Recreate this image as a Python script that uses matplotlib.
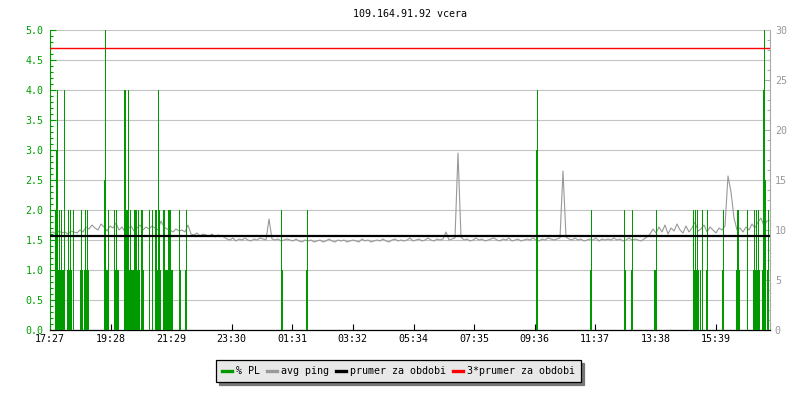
import matplotlib
matplotlib.use("Agg")
import matplotlib.pyplot as plt
from matplotlib.lines import Line2D
from matplotlib.ticker import MultipleLocator, FormatStrFormatter
from matplotlib.transforms import blended_transform_factory
import numpy as np

plt.rcParams['font.family'] = ['DejaVu Sans Mono']
plt.rcParams['font.size'] = 7.2

title = '109.164.91.92 vcera'
start_time = '17:27'
span_minutes = 1440
tick_labels = ['17:27', '19:28', '21:29', '23:30', '01:31', '03:32',
               '05:34', '07:35', '09:36', '11:37', '13:38', '15:39']

# avg ping [ms], one sample every 6 minutes from 17:27
ping_step = 6
ping_ms = [
    # 17:27 - 22:09
    9.7, 9.8, 9.6, 9.9, 9.7, 9.8, 9.6, 9.9, 9.8, 9.7,
    10.0, 9.8, 10.3, 10.1, 10.5, 10.2, 10.0, 10.6, 10.3, 9.9,
    10.4, 10.2, 10.7, 10.0, 10.3, 9.8, 10.1, 10.4, 9.9, 10.2,
    10.5, 10.0, 10.3, 10.1, 10.4, 10.2, 10.0, 10.9, 10.3, 10.1,
    10.0, 9.8, 10.1, 9.9, 10.0, 9.8, 10.5,
    # 22:09 - 23:21
    9.6, 9.5, 9.7, 9.4, 9.6, 9.5, 9.4, 9.6, 9.3, 9.5, 9.4, 9.3,
    # 23:21 - 13:27
    9.1, 9.0, 9.2, 8.9, 9.1, 9.0, 9.2, 9.0, 8.9, 9.1,
    9.0, 9.2, 9.1, 9.0, 11.1, 9.1, 9.0, 9.1, 8.9, 9.0,
    9.1, 9.0, 8.9, 9.1, 8.9, 8.8, 9.0, 8.9, 9.0, 8.8,
    8.9, 9.0, 8.8, 8.9, 9.1, 8.9, 8.8, 9.0, 8.9, 9.0,
    8.8, 8.9, 9.0, 8.9, 8.8, 9.1, 8.9, 9.0, 8.8, 8.9,
    9.0, 8.9, 9.1, 8.9, 8.8, 9.0, 9.1, 8.9, 9.0, 8.9,
    9.0, 9.2, 8.9, 9.0, 9.1, 8.9, 9.0, 9.2, 9.0, 8.9,
    9.1, 9.0, 9.1, 9.8, 9.0, 9.1, 9.2, 17.7, 9.3, 9.0,
    9.1, 8.9, 9.0, 9.2, 9.0, 9.1, 8.9, 9.0, 9.1, 9.2,
    9.0, 8.9, 9.1, 9.0, 9.2, 8.9, 9.0, 9.1, 8.9, 9.0,
    9.1, 9.0, 9.2, 9.0, 8.9, 9.1, 9.0, 9.2, 9.1, 9.0,
    9.1, 9.2, 15.9, 9.3, 9.1, 9.0, 9.2, 9.0, 9.1, 8.9,
    9.0, 9.1, 9.0, 9.2, 8.9, 9.1, 9.0, 9.1, 9.0, 9.2,
    9.0, 9.1, 8.9, 9.0, 9.2, 9.0, 9.1, 9.0, 8.9, 9.1, 9.3,
    # 13:27 - 17:21
    9.6, 10.1, 9.7, 10.3, 9.8, 10.5, 9.6, 10.2, 9.9, 10.6,
    10.0, 9.7, 10.4, 9.8, 10.2, 10.8, 9.9, 10.1, 10.5, 9.8,
    10.3, 10.0, 9.7, 10.2, 10.0, 10.4, 15.4, 13.8, 11.2, 10.0,
    10.2, 9.8, 10.3, 10.0, 10.6, 10.2, 10.8, 11.2, 10.4, 10.9,
]
ping_mean = 9.4

# packet loss [%], minutes after 17:27
pl_minutes = [
    8, 10, 12, 14, 16, 18, 20, 22, 24, 26, 32, 34, 36, 38, 40, 44, 58, 60, 62, 66, 68, 70, 72, 74,
    106, 108, 110, 112, 114, 126, 128, 130, 132, 134,
    146, 148, 150, 152, 154, 156, 158, 160, 162, 164, 166, 168, 170, 172, 174, 176, 180, 182, 184,
    196, 202, 208, 210, 212, 214, 216, 218, 224, 226, 228, 230, 232, 234, 236, 238, 240, 242, 256, 258, 268, 270,
    460, 462, 510, 512, 970, 972, 1078, 1080, 1146, 1148, 1160, 1162, 1206, 1208, 1210,
    1284, 1286, 1288, 1290, 1292, 1294, 1298, 1302, 1310, 1312, 1342, 1344, 1370, 1372, 1374, 1376, 1392,
    1404, 1406, 1408, 1410, 1412, 1414, 1416, 1422, 1424, 1426, 1428, 1432, 1434,
]
pl_values = [
    2, 3, 4, 1, 2, 1, 2, 1, 1, 4, 1, 2, 1, 2, 1, 2, 1, 2, 1, 1, 2, 1, 2, 1,
    2.5, 5, 1, 1, 2, 2, 1, 2, 1, 1,
    4, 4, 2, 2, 4, 1, 2, 1, 1, 1, 2, 2, 2, 1, 2, 1, 2, 2, 1,
    2, 2, 2, 2, 1, 4, 2, 1, 2, 2, 1, 1, 1, 2, 2, 2, 1, 1, 2, 1, 1, 2,
    2, 1, 1, 2, 3, 4, 1, 2, 2, 1, 1, 2, 1, 1, 2,
    2, 1, 2, 1, 2, 1, 1, 2, 1, 2, 1, 2, 1, 2, 2, 1, 2,
    1, 2, 1, 2, 1, 2, 1, 1, 4, 5, 2.5, 1, 2,
]

legend_labels = ['% PL', 'avg ping', 'prumer za obdobi', '3*prumer za obdobi']

green = '#009900'
green_txt = '#00a000'
gray = '#999999'
grid_c = '#c4c4c4'


def minutes_after_start(hhmm):
    h, m = map(int, hhmm.split(':'))
    sh, sm = map(int, start_time.split(':'))
    return (h * 60 + m - sh * 60 - sm) % 1440


tick_pos = [minutes_after_start(t) for t in tick_labels]
ping_minutes = np.arange(len(ping_ms)) * ping_step
# each PL sample covers one 2-minute column; draw it at the column centre
pl_centres = np.array(pl_minutes) + 1

fig = plt.figure(figsize=(8, 4), dpi=100)
ax = fig.add_axes([50 / 800, 70 / 400, 720 / 800, 300 / 400])
ax2 = ax.twinx()
ax.set_zorder(2)
ax2.set_zorder(1)
ax.patch.set_visible(False)

ax.set_xlim(0, span_minutes)
ax.set_ylim(0, 5)
ax2.set_ylim(0, 30)

ax.set_axisbelow(True)
ax.yaxis.grid(True, color=grid_c, linewidth=0.8, zorder=0)

# avg ping lives on the right scale
ax.plot(ping_minutes, ping_ms, color=gray, linewidth=0.8, zorder=2,
        transform=ax2.transData)
ax.vlines(pl_centres, 0, pl_values, color=green, linewidth=0.72,
          antialiased=False, snap=True, zorder=3)
hline_tr = blended_transform_factory(ax.transAxes, ax2.transData)
ax.plot([0, 1], [ping_mean, ping_mean], color='black', linewidth=1.6,
        zorder=4, transform=hline_tr)
ax.plot([0, 1], [3 * ping_mean, 3 * ping_mean], color='#ff0000',
        linewidth=1.0, zorder=4, transform=hline_tr)

# axes styling
for side in ['top', 'right']:
    ax.spines[side].set_visible(False)
for side in ['top', 'left', 'bottom']:
    ax2.spines[side].set_visible(False)
ax.spines['left'].set_color(green)
ax.spines['left'].set_linewidth(0.8)
ax.spines['bottom'].set_color('black')
ax.spines['bottom'].set_linewidth(0.9)
ax2.spines['right'].set_color('#aaaaaa')
ax2.spines['right'].set_linewidth(0.8)

ax.set_xticks(tick_pos, tick_labels)
ax.tick_params(axis='x', direction='in', length=4, width=0.8,
               color='black', labelcolor='black', pad=3)

ax.yaxis.set_major_locator(MultipleLocator(0.5))
ax.yaxis.set_minor_locator(MultipleLocator(0.1))
ax.yaxis.set_major_formatter(FormatStrFormatter('%.1f'))
ax.tick_params(axis='y', which='major', direction='in', length=4,
               width=0.8, color=green, labelcolor=green_txt, pad=4.5)
ax.tick_params(axis='y', which='minor', direction='in', length=2.3,
               width=0.8, color=green)

ax2.yaxis.set_major_locator(MultipleLocator(5))
ax2.yaxis.set_minor_locator(MultipleLocator(1))
ax2.tick_params(axis='y', which='major', direction='in', length=4,
                width=0.8, color='#aaaaaa', labelcolor=gray, pad=3.5)
ax2.tick_params(axis='y', which='minor', direction='in', length=2.3,
                width=0.8, color='#aaaaaa')

ax.set_title(title, fontsize=7.2, pad=9.5)

handles = [Line2D([], [], color=green, linewidth=2.4),
           Line2D([], [], color=gray, linewidth=2.4),
           Line2D([], [], color='black', linewidth=2.4),
           Line2D([], [], color='#ff0000', linewidth=2.4)]
leg = fig.legend(handles, legend_labels, loc='upper center',
                 bbox_to_anchor=(0.498, 0.1), bbox_transform=fig.transFigure,
                 ncol=4, fancybox=False, shadow={'color': '#777777', 'alpha': 1},
                 edgecolor='black', facecolor='#e8e8e8', framealpha=1,
                 handlelength=1.0, handletextpad=0.4, columnspacing=0.7,
                 borderpad=0.6, borderaxespad=0, fontsize=7.2)
leg.get_frame().set_linewidth(0.9)

fig.savefig('out.png', dpi=100)
